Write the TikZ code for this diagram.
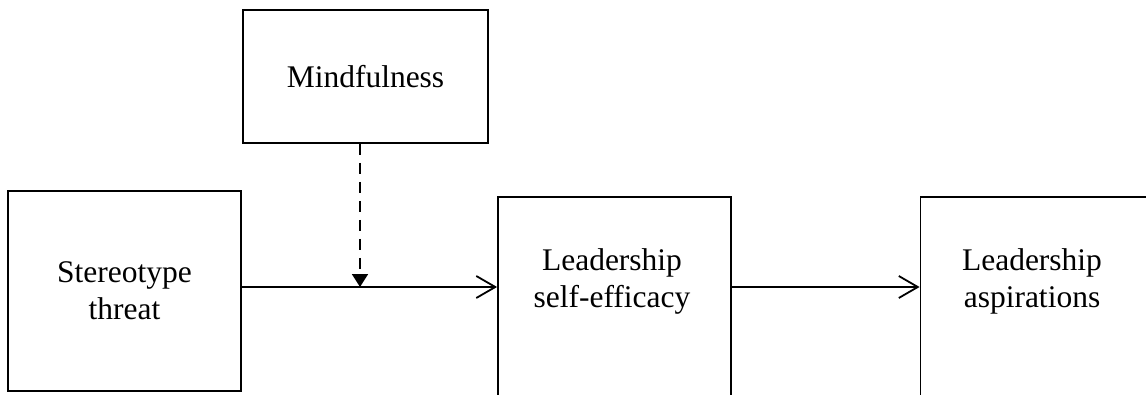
\documentclass[tikz,border=0pt]{standalone}
\usepackage{fontspec}
\setmainfont{Liberation Serif}
\usetikzlibrary{positioning}
\usetikzlibrary{arrows.meta}

\begin{document}
\begin{tikzpicture}[x=1pt, y=1pt, line width=1.8pt,
        box/.style={draw, rectangle, inner sep=0pt, align=center, font=\fontsize{31.5}{37}\selectfont},
        lbl/.style={align=center, font=\fontsize{31.5}{37}\selectfont},
        barb/.style={-{Straight Barb[length=19pt,width=22pt]}},
        modarrow/.style={dash pattern=on 11pt off 8pt, -{Triangle[length=13pt,width=16pt]}}]

          \clip (0,0) rectangle (1146,394);
        %Boxes
          \node [box, minimum width=233pt, minimum height=200pt] (threat) at (124.5,103) {Stereotype\\threat};
          \node [box, minimum width=245pt, minimum height=133pt] (mind) at (365.5,317.5) {Mindfulness};

          \node [box, minimum width=233pt, minimum height=230pt] (lse) at (614.5,82) {};
          \node [lbl] (lsetext) at (612,113) {Leadership\\self-efficacy};

          \node [box, minimum width=233pt, minimum height=230pt] (la) at (1037,82) {};
          \node [lbl] (latext) at (1032,113) {Leadership\\aspirations};
        %Arrows
          \coordinate (moderate) at (360,107);
          \draw [barb] (threat.east |- moderate) -- (lse.west |- moderate);
          \draw [modarrow] (mind.south -| moderate) -- (moderate);
          \draw [barb] (lse.east |- moderate) -- (la.west |- moderate);
\end{tikzpicture}
\end{document}
